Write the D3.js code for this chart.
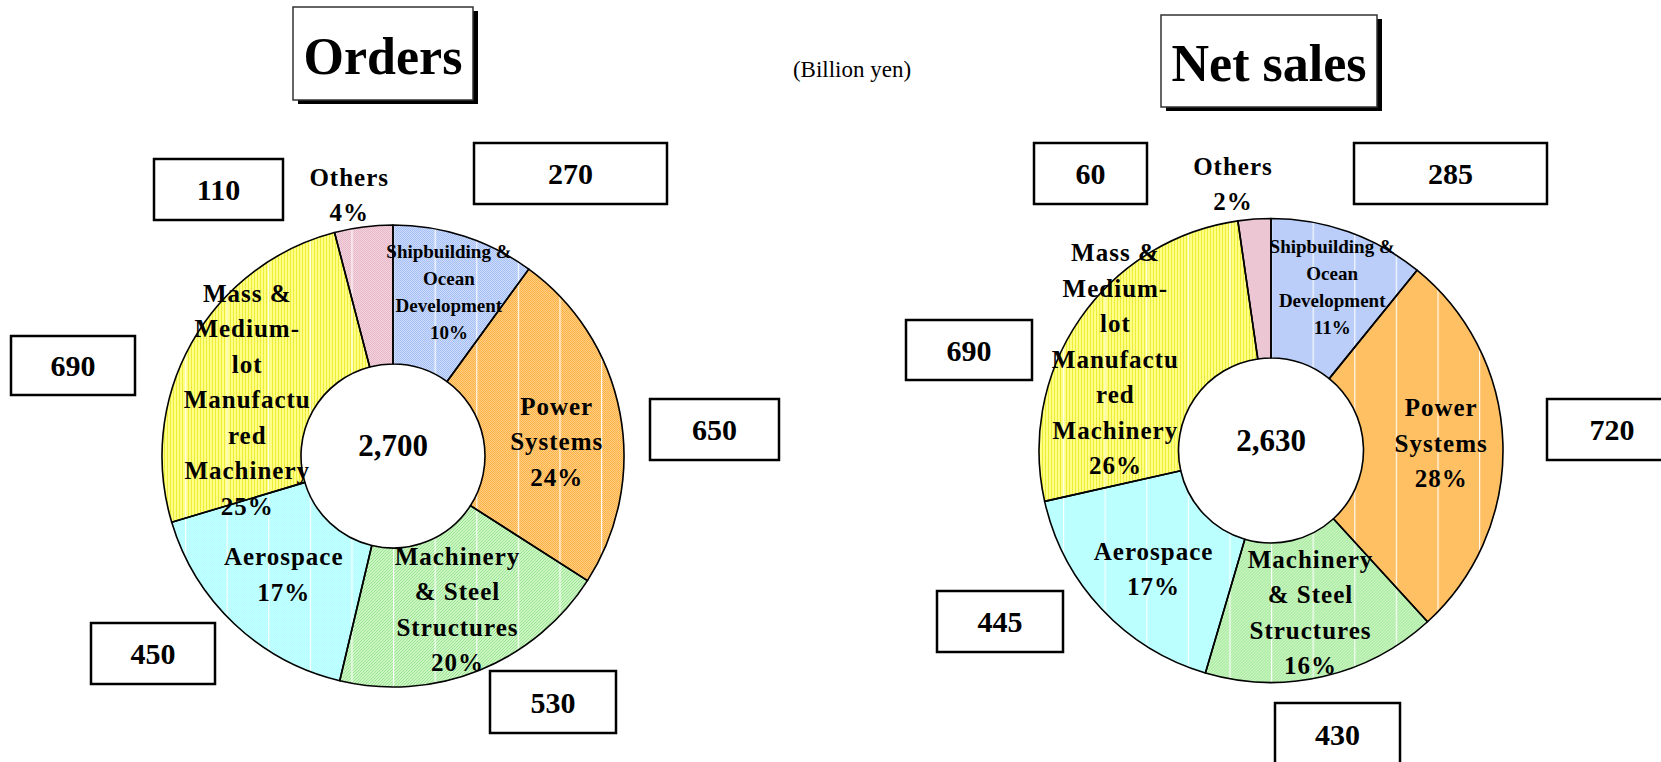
<!DOCTYPE html>
<html>
<head>
<meta charset="utf-8">
<script src="https://cdn.jsdelivr.net/npm/d3@7"></script>
<style>
  body { margin: 0; background: #fff; }
  text { font-family: "Liberation Serif", "Times New Roman", serif; font-weight: bold; fill: #000; }
</style>
</head>
<body>
<div id="chart"></div>
<script>
// Segment data, clockwise from 12 o'clock

const segments = ["Shipbuilding & Ocean Development", "Power Systems", "Machinery & Steel Structures",
  "Aerospace", "Mass & Medium-lot Manufactured Machinery", "Others"];
const labelLines = [
  ["Shipbuilding &", "Ocean", "Development"],
  ["Power", "Systems"],
  ["Machinery", "& Steel", "Structures"],
  ["Aerospace"],
  ["Mass &", "Medium-", "lot", "Manufactu", "red", "Machinery"],
  ["Others"]
];
const ordersValues = [270, 650, 530, 450, 690, 110];
const ordersPct = ["10%", "24%", "20%", "17%", "25%", "4%"];
const salesValues = [285, 720, 430, 445, 690, 60];
const salesPct = ["11%", "28%", "16%", "17%", "26%", "2%"];
const titles = ["Orders", "Net sales"];
const unitLabel = "(Billion yen)";

var width = 1661, height = 762

var svg = d3.select("#chart")
  .append("svg")
  .attr("width", width)
  .attr("height", height)

svg.append("rect").attr("width", width).attr("height", height).attr("fill", "#fff")

// Fill patterns (base colour + fine texture)
var defs = svg.append("defs")
var fills = [
  { id: "pShip", base: "#a6c0f7", dot: "#cddcfa", kind: "check" },
  { id: "pPower", base: "#ffb447", dot: "#ffcc82", kind: "check" },
  { id: "pMach", base: "#cbf5c2", dot: "#9be592", kind: "diag" },
  { id: "pAero", base: "#b4ffff", dot: "#c4ffff", kind: "check" },
  { id: "pMass", base: "#ffff86", dot: "#eeee3a", kind: "vert" },
  { id: "pOther", base: "#e7b9c9", dot: "#f2d2dd", kind: "check" }
]

fills.forEach(function (f) {
  var p = defs.append("pattern")
    .attr("id", f.id)
    .attr("patternUnits", "userSpaceOnUse")
    .attr("width", f.kind == "vert" ? 3 : 2)
    .attr("height", 2)
  if (f.kind == "diag") {
    p.attr("width", 3).attr("height", 3)
    p.append("rect").attr("width", 3).attr("height", 3).attr("fill", f.base)
    p.append("path").attr("d", "M0,3 L3,0 M-1,1 L1,-1 M2,4 L4,2").attr("stroke", f.dot).attr("stroke-width", 1)
  } else if (f.kind == "vert") {
    p.append("rect").attr("width", 3).attr("height", 2).attr("fill", f.base)
    p.append("rect").attr("x", 2).attr("width", 1).attr("height", 2).attr("fill", f.dot)
  } else {
    p.append("rect").attr("width", 2).attr("height", 2).attr("fill", f.base)
    p.append("rect").attr("width", 1).attr("height", 1).attr("fill", f.dot)
    p.append("rect").attr("x", 1).attr("y", 1).attr("width", 1).attr("height", 1).attr("fill", f.dot)
  }
})

// faint white vertical lines that run through the slices
var vl = defs.append("pattern")
  .attr("id", "pLines")
  .attr("patternUnits", "userSpaceOnUse")
  .attr("width", 41.6)
  .attr("height", 10)
vl.append("rect").attr("x", 0).attr("width", 1.2).attr("height", 10).attr("fill", "#fff")

// Unit label
svg.append("text")
  .attr("x", 852)
  .attr("y", 77)
  .attr("text-anchor", "middle")
  .style("font-weight", "normal")
  .style("font-size", "23px")
  .text(unitLabel)

// Layouts for the two donuts
var layouts = [
  {
    cx: 393, cy: 456, r0: 92, r1: 231,
    titleBox: [293, 7, 180, 93], titleBase: 74,
    boxes: [[474, 143, 193, 61], [650, 399, 129, 61], [490, 671, 126, 62],
            [91, 623, 124, 61], [11, 336, 124, 59], [154, 159, 129, 61]],
    offsets: [[6, -10], [5, 16], [4, 4], [1.5, 1.5], [-5, 23], [-10, 2]]
  },
  {
    cx: 1271, cy: 450.5, r0: 92.5, r1: 232,
    titleBox: [1161, 15, 216, 92], titleBase: 81,
    boxes: [[1354, 143, 193, 61], [1547, 399, 130, 61], [1275, 703, 125, 62],
            [937, 591, 126, 61], [906, 320, 126, 60], [1034, 143, 113, 61]],
    offsets: [[7, -10], [8, -2], [3, 4], [1, 8], [-22, 1], [-19, -1]]
  }
]

function drawDonut(values, pcts, title, L) {
  var g = svg.append("g").attr("transform", "translate(" + L.cx + "," + L.cy + ")")

  var pie = d3.pie().sort(null).value(function (d) { return d })
  var arcs = pie(values)
  var arc = d3.arc().innerRadius(L.r0).outerRadius(L.r1)
  var outerArc = d3.arc().innerRadius(L.r1 + 34).outerRadius(L.r1 + 34)

  // slices
  g.selectAll(".slice")
    .data(arcs)
    .enter()
    .append("path")
    .attr("class", "slice")
    .attr("d", arc)
    .attr("fill", function (d, i) { return "url(#" + fills[i].id + ")" })

  g.selectAll(".lines")
    .data(arcs)
    .enter()
    .append("path")
    .attr("d", arc)
    .attr("fill", "url(#pLines)")
    .attr("opacity", 0.9)

  g.selectAll(".edge")
    .data(arcs)
    .enter()
    .append("path")
    .attr("d", arc)
    .attr("fill", "none")
    .attr("stroke", "#000")
    .attr("stroke-width", 1.6)
    .attr("stroke-linejoin", "round")

  // centre total
  g.append("text")
    .attr("x", 0)
    .attr("y", 0)
    .attr("text-anchor", "middle")
    .style("font-size", "31px")
    .text(d3.format(",")(d3.sum(values)))

  // slice labels
  arcs.forEach(function (d, i) {
    var lines = labelLines[i].concat([pcts[i]])
    var small = i == 0
    var fs = small ? 19 : 25
    var lh = small ? 27 : 35.5
    var c = i == arcs.length - 1 ? outerArc.centroid(d) : arc.centroid(d)
    var x = c[0] + L.offsets[i][0]
    var y = c[1] + L.offsets[i][1]
    var first = y - (lines.length - 1) * lh / 2 + fs * 0.33
    var t = g.append("text")
      .attr("text-anchor", "middle")
      .style("font-size", fs + "px")
      .style("letter-spacing", small ? "0px" : "1px")
    lines.forEach(function (s, k) {
      t.append("tspan").attr("x", x).attr("y", first + k * lh).text(s)
    })
  })

  // value boxes
  L.boxes.forEach(function (b, i) {
    svg.append("rect")
      .attr("x", b[0]).attr("y", b[1]).attr("width", b[2]).attr("height", b[3])
      .attr("fill", "#fff").attr("stroke", "#000").attr("stroke-width", 2.5)
    svg.append("text")
      .attr("x", b[0] + b[2] / 2)
      .attr("y", b[1] + b[3] / 2 + 10.5)
      .attr("text-anchor", "middle")
      .style("font-size", "30px")
      .text(values[i])
  })

  // title with drop shadow
  var tb = L.titleBox
  svg.append("rect")
    .attr("x", tb[0] + 5).attr("y", tb[1] + 4).attr("width", tb[2]).attr("height", tb[3])
    .attr("fill", "#000")
  svg.append("rect")
    .attr("x", tb[0]).attr("y", tb[1]).attr("width", tb[2]).attr("height", tb[3])
    .attr("fill", "#fff").attr("stroke", "#333").attr("stroke-width", 1.5)
  svg.append("text")
    .attr("x", tb[0] + tb[2] / 2)
    .attr("y", L.titleBase)
    .attr("text-anchor", "middle")
    .style("font-size", "52px")
    .text(title)
}

drawDonut(ordersValues, ordersPct, titles[0], layouts[0])
drawDonut(salesValues, salesPct, titles[1], layouts[1])
</script>
</body>
</html>
